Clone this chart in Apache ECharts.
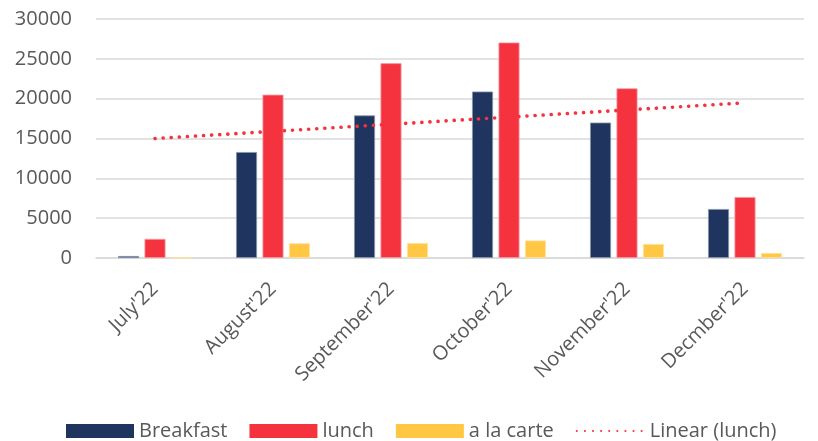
<!DOCTYPE html>
<html>
<head>
<meta charset="utf-8">
<script src="https://cdn.jsdelivr.net/npm/echarts@6/dist/echarts.min.js"></script>
<style>
	html, body { margin: 0; padding: 0; background: #fff; }
	#chart { width: 818px; height: 441px; }
</style>
</head>
<body>
<div id="chart"></div>
<script>
// 数据
var months = ["July'22", "August'22", "September'22", "October'22", "November'22", "Decmber'22"];
var breakfast = [250, 13300, 17900, 20900, 17000, 6150];
var lunch = [2400, 20500, 24450, 27050, 21300, 7650];
var alaCarte = [0, 1850, 1880, 2200, 1760, 630];
// trendline endpoints (first and last month)
var lunchTrend = [15000, null, null, null, null, 19480];

var txtColor = '#595959';
var fontName = '"Open Sans", sans-serif';

var ech = echarts.init(document.getElementById('chart'));
var option = {
	animation: false,
	grid: {
		left: 96,
		right: 14,
		top: 19,
		bottom: 183
	},
	legend: {
		left: 61,
		top: 416,
		itemWidth: 68,
		itemHeight: 14,
		itemGap: 22,
		itemStyle: {
			borderWidth: 0
		},
		textStyle: {
			color: txtColor,
			fontSize: 20,
			fontFamily: fontName
		},
		data: [{
			name: 'Breakfast',
			icon: 'rect'
		}, {
			name: 'lunch',
			icon: 'rect'
		}, {
			name: 'a la carte',
			icon: 'rect'
		}, {
			name: 'Linear (lunch)',
			itemStyle: { opacity: 0 }
		}]
	},
	xAxis: [{
		type: 'category',
		data: months,
		axisLine: {
			lineStyle: { color: '#d9d9d9', width: 1.5 }
		},
		axisTick: { show: false },
		axisLabel: {
			rotate: 45,
			margin: 28,
			color: txtColor,
			fontSize: 20,
			fontFamily: fontName
		}
	}],
	yAxis: [{
		type: 'value',
		min: 0,
		max: 30000,
		interval: 5000,
		axisLine: { show: false },
		axisTick: { show: false },
		axisLabel: {
			margin: 24,
			color: txtColor,
			fontSize: 20,
			fontFamily: fontName,
			formatter: function(v) {
				return String(v);
			}
		},
		splitLine: {
			lineStyle: { color: '#d9d9d9', width: 1.5 }
		}
	}],
	series: [{
		name: 'Breakfast',
		type: 'bar',
		data: breakfast,
		barWidth: 21,
		barGap: '26%',
		itemStyle: {
			color: '#1f3560',
			borderColor: '#8a94aa',
			borderWidth: 0.8
		}
	}, {
		name: 'lunch',
		type: 'bar',
		data: lunch,
		barWidth: 21,
		barGap: '26%',
		itemStyle: {
			color: '#f4333f',
			borderColor: '#f89aa0',
			borderWidth: 0.8
		}
	}, {
		name: 'a la carte',
		type: 'bar',
		data: alaCarte,
		barWidth: 21,
		barGap: '26%',
		itemStyle: {
			color: '#ffc743',
			borderColor: '#ffe2a0',
			borderWidth: 0.8
		}
	}, {
		name: 'Linear (lunch)',
		type: 'line',
		data: lunchTrend,
		connectNulls: true,
		symbol: 'none',
		z: 5,
		itemStyle: { color: '#f4333f' },
		lineStyle: {
			color: '#f4333f',
			width: 3.6,
			type: [0.1, 8],
			cap: 'round'
		}
	}]
};
ech.setOption(option);
</script>
</body>
</html>
